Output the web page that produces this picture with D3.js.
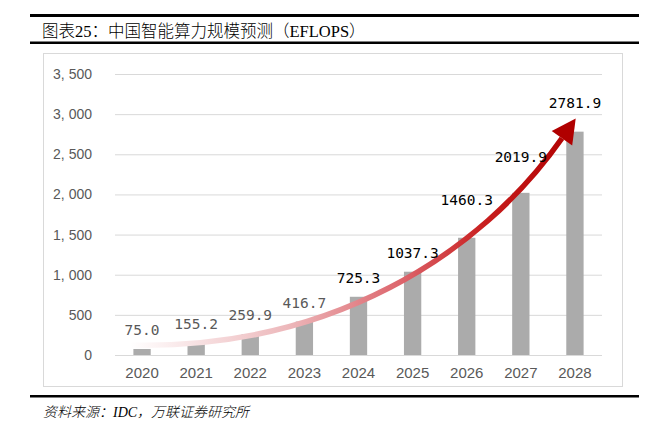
<!DOCTYPE html>
<html>
<head>
<meta charset="utf-8">
<script src="https://cdn.jsdelivr.net/npm/d3@7"></script>
<style>
  body { margin: 0; background: #fff; }
  svg { display: block; }
</style>
</head>
<body>
<div id="chart"></div>
<script>
// data
var years = ["2020", "2021", "2022", "2023", "2024", "2025", "2026", "2027", "2028"];
var computeEflops = [75.0, 155.2, 259.9, 416.7, 725.3, 1037.3, 1460.3, 2019.9, 2781.9];
var yTicks = [0, 500, 1000, 1500, 2000, 2500, 3000, 3500];
var titleText = "图表25：中国智能算力规模预测（EFLOPS）";
var sourceText = "资料来源：IDC，万联证券研究所";

var W = 651, H = 426;
var svg = d3.select("#chart").append("svg").attr("width", W).attr("height", H);

// header / footer rules
svg.append("rect").attr("x", 30).attr("y", 14).attr("width", 609).attr("height", 3).attr("fill", "#000");
svg.append("rect").attr("x", 30).attr("y", 41.5).attr("width", 609).attr("height", 2.5).attr("fill", "#000");
svg.append("rect").attr("x", 30).attr("y", 395).attr("width", 609).attr("height", 2.5).attr("fill", "#000");

svg.append("text").attr("x", 42).attr("y", 37)
    .style("font-family", "'Liberation Serif', 'Noto Sans CJK SC'")
    .style("font-size", "16.5px").style("font-weight", 300).attr("fill", "#000")
    .text(titleText);
svg.append("text").attr("x", 43).attr("y", 417)
    .style("font-family", "'Liberation Serif', 'Noto Sans CJK SC'")
    .style("font-size", "14px").style("font-style", "italic").style("font-weight", 300).attr("fill", "#000")
    .text(sourceText);

// chart frame
svg.append("rect").attr("x", 43.5).attr("y", 53.5).attr("width", 579).attr("height", 333)
    .attr("fill", "#fff").attr("stroke", "#D9D9D9");

var x = d3.scaleBand().domain(years).range([115, 602]).paddingInner(0.68).paddingOuter(0.34);
var y = d3.scaleLinear().domain([0, 3500]).range([355, 74]);

// gridlines + y labels
var yAxis = svg.append("g").attr("transform", "translate(115,0)")
    .call(d3.axisLeft(y).tickValues(yTicks).tickSize(-487).tickPadding(23)
        .tickFormat(function (d) { return d3.format(",")(d).replace(",", ", "); }));
yAxis.select(".domain").remove();
yAxis.selectAll(".tick line").attr("stroke", "#D9D9D9");
yAxis.selectAll(".tick text").attr("fill", "#595959")
    .style("font-family", "'Liberation Sans', Arial").style("font-size", "14px");

// x labels
var xAxis = svg.append("g").attr("transform", "translate(0,355)")
    .call(d3.axisBottom(x).tickSize(0).tickPadding(12));
xAxis.select(".domain").remove();
xAxis.selectAll(".tick text").attr("fill", "#595959")
    .style("font-family", "'Liberation Sans', Arial").style("font-size", "15px");

// bars
svg.append("g").selectAll("rect").data(computeEflops).enter().append("rect")
    .attr("x", function (d, i) { return x(years[i]); })
    .attr("y", function (d) { return y(d); })
    .attr("width", x.bandwidth())
    .attr("height", function (d) { return y(0) - y(d); })
    .attr("fill", "#ABABAB");

// growth arrow, placed in category-index / value space
function cx(i) { return x(years[0]) + x.bandwidth() / 2 + i * x.step(); }
var arrowPts = [[-0.22, 125], [3.47, 62], [6.25, 1245], [7.76, 2700]].map(function (p) {
    return [cx(p[0]), y(p[1])];
});
var defs = svg.append("defs");
var grad = defs.append("linearGradient").attr("id", "arrowGrad")
    .attr("gradientUnits", "userSpaceOnUse")
    .attr("x1", arrowPts[0][0]).attr("y1", 0).attr("x2", cx(8)).attr("y2", 0);
[[0, "#FFFFFF"], [0.35, "#EDB9BC"], [0.62, "#DC6168"], [0.8, "#C81E1E"], [1, "#B00000"]]
    .forEach(function (s) { grad.append("stop").attr("offset", s[0]).attr("stop-color", s[1]); });

var p = d3.path();
p.moveTo(arrowPts[0][0], arrowPts[0][1]);
p.bezierCurveTo(arrowPts[1][0], arrowPts[1][1], arrowPts[2][0], arrowPts[2][1], arrowPts[3][0], arrowPts[3][1]);
svg.append("path").attr("d", p.toString()).attr("fill", "none")
    .attr("stroke", "url(#arrowGrad)").attr("stroke-width", 5.5);

// arrow head along the end tangent
var end = arrowPts[3], ctl = arrowPts[2];
var dx = end[0] - ctl[0], dy = end[1] - ctl[1], len = Math.sqrt(dx * dx + dy * dy);
dx /= len; dy /= len;
var headLen = 24, headHalf = 12.5;
svg.append("path")
    .attr("d", "M" + (end[0] + dx * headLen) + "," + (end[1] + dy * headLen) +
        "L" + (end[0] - dy * headHalf) + "," + (end[1] + dx * headHalf) +
        "L" + (end[0] + dy * headHalf) + "," + (end[1] - dx * headHalf) + "Z")
    .attr("fill", "#B00000");

// value labels (the last three were lifted clear of the arrow)
var labelLift = [19, 19, 19, 19, 19, 19, 38, 36, 29];
svg.append("g").selectAll("text").data(computeEflops).enter().append("text")
    .attr("x", function (d, i) { return x(years[i]) + x.bandwidth() / 2; })
    .attr("y", function (d, i) { return y(d) - labelLift[i] + 5; })
    .attr("text-anchor", "middle")
    .attr("fill", function (d, i) { return i < 4 ? "#595959" : "#000"; })
    .style("font-family", "'DejaVu Sans Mono', monospace").style("font-size", "14.5px")
    .text(function (d) { return d.toFixed(1); });
</script>
</body>
</html>
